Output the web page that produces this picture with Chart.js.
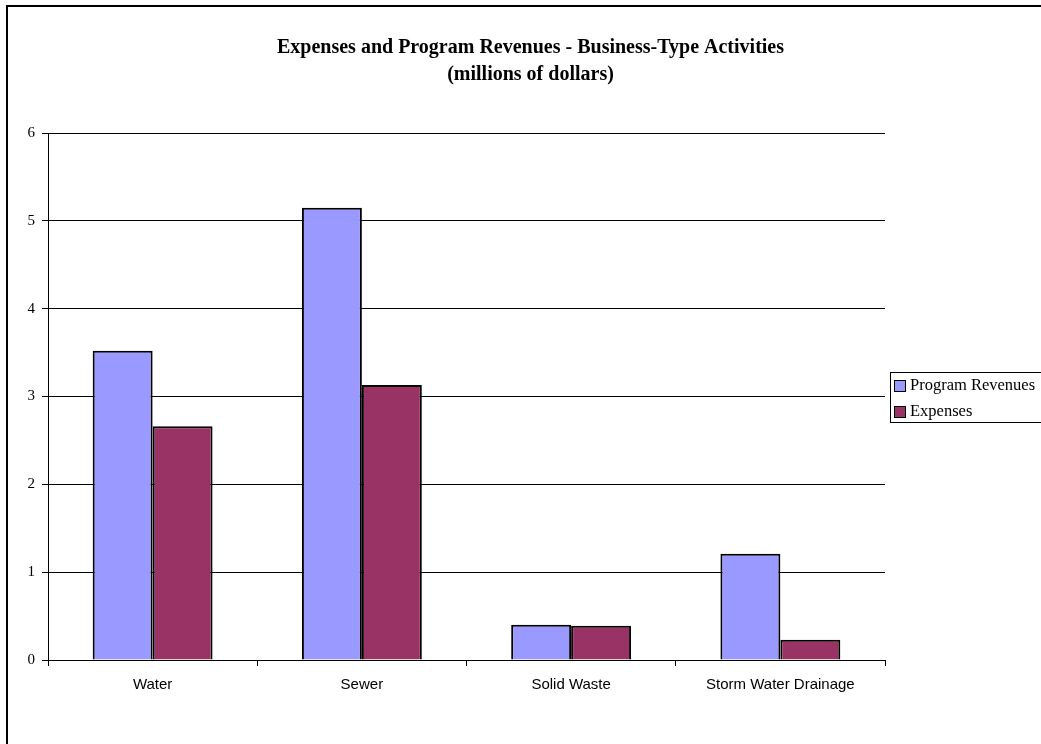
<!DOCTYPE html>
<html>
<head>
<meta charset="utf-8">
<script src="https://cdn.jsdelivr.net/npm/chart.js@4.4.1/dist/chart.umd.min.js"></script>
<style>
  html, body { margin: 0; padding: 0; background: #fff; }
  #wrap { position: relative; width: 1041px; height: 744px; overflow: hidden; }
  #frame { position: absolute; left: 6px; top: 5px; width: 1100px; height: 800px;
           border-left: 2px solid #000; border-top: 2px solid #000; }
  canvas { position: absolute; left: 0; top: 0; }
</style>
</head>
<body>
<div id="wrap">
  <div id="frame"></div>
  <canvas id="c" width="1041" height="744"></canvas>
</div>
<script>
const categories = ['Water', 'Sewer', 'Solid Waste', 'Storm Water Drainage'];
const programRevenues = [3.52, 5.15, 0.40, 1.21];
const expenses = [2.66, 3.13, 0.39, 0.23];
const seriesNames = ['Program Revenues', 'Expenses'];
const titleLines = ['Expenses and Program Revenues - Business-Type Activities', '(millions of dollars)'];
const yTicks = [0, 1, 2, 3, 4, 5, 6];

const colors = ['#9999FF', '#993366'];

const legendPlugin = {
  id: 'boxLegend',
  afterDraw(chart) {
    const ctx = chart.ctx;
    const a = chart.chartArea;
    const left = a.right + 5;
    const h = 50;
    const top = Math.round((a.top + a.bottom) / 2 - h / 2);
    ctx.save();
    ctx.strokeStyle = '#000';
    ctx.lineWidth = 1;
    ctx.strokeRect(left + 0.5, top + 0.5, 200, h);
    ctx.font = '16.5px "Liberation Serif", "Times New Roman", serif';
    ctx.textBaseline = 'middle';
    ctx.textAlign = 'left';
    chart.data.datasets.forEach((ds, i) => {
      const cy = top + 13 + i * 26;
      ctx.fillStyle = ds.backgroundColor;
      ctx.fillRect(left + 4, cy - 5, 11, 11);
      ctx.strokeStyle = '#000';
      ctx.strokeRect(left + 4.5, cy - 4.5, 11, 11);
      ctx.fillStyle = '#000';
      ctx.fillText(ds.label, left + 20, cy + 1);
    });
    ctx.restore();
  }
};

new Chart(document.getElementById('c'), {
  type: 'bar',
  data: {
    labels: categories,
    datasets: [
      { label: seriesNames[0], data: programRevenues, backgroundColor: colors[0], borderColor: '#000', borderWidth: 2 },
      { label: seriesNames[1], data: expenses, backgroundColor: colors[1], borderColor: '#000', borderWidth: 2 }
    ]
  },
  options: {
    responsive: false,
    animation: false,
    layout: { padding: { left: 20, right: 0, top: 0, bottom: 0 } },
    datasets: { bar: { categoryPercentage: 0.573, barPercentage: 1.0 } },
    plugins: {
      legend: { display: false },
      tooltip: { enabled: false },
      title: {
        display: true,
        text: titleLines,
        color: '#000',
        font: { family: '"Liberation Serif", "Times New Roman", serif', size: 20, weight: 'bold', lineHeight: 1.35 },
        padding: { top: 34, bottom: 45 }
      }
    },
    scales: {
      x: {
        grid: { display: true, drawOnChartArea: false, drawTicks: true, tickLength: 6, color: '#000', lineWidth: 1 },
        border: { display: true, color: '#000', width: 1 },
        ticks: { color: '#000', padding: 10, font: { family: '"Liberation Sans", Arial, sans-serif', size: 15 }, maxRotation: 0, autoSkip: false },
        afterFit(s) { s.height = 84; }
      },
      y: {
        min: 0, max: 6,
        afterBuildTicks(s) { s.ticks = yTicks.map(v => ({ value: v })); },
        grid: { color: '#000', lineWidth: 1, drawTicks: true, tickLength: 6 },
        border: { display: true, color: '#000', width: 1 },
        ticks: { color: '#000', padding: 7, font: { family: '"Liberation Serif", "Times New Roman", serif', size: 15 } },
        afterFit(s) { s.width = 28; }
      },
      yR: {
        position: 'right',
        display: true,
        grid: { display: false, drawTicks: false },
        border: { display: false },
        ticks: { display: false },
        afterFit(s) { s.width = 156; }
      }
    }
  },
  plugins: [legendPlugin]
});
</script>
</body>
</html>
